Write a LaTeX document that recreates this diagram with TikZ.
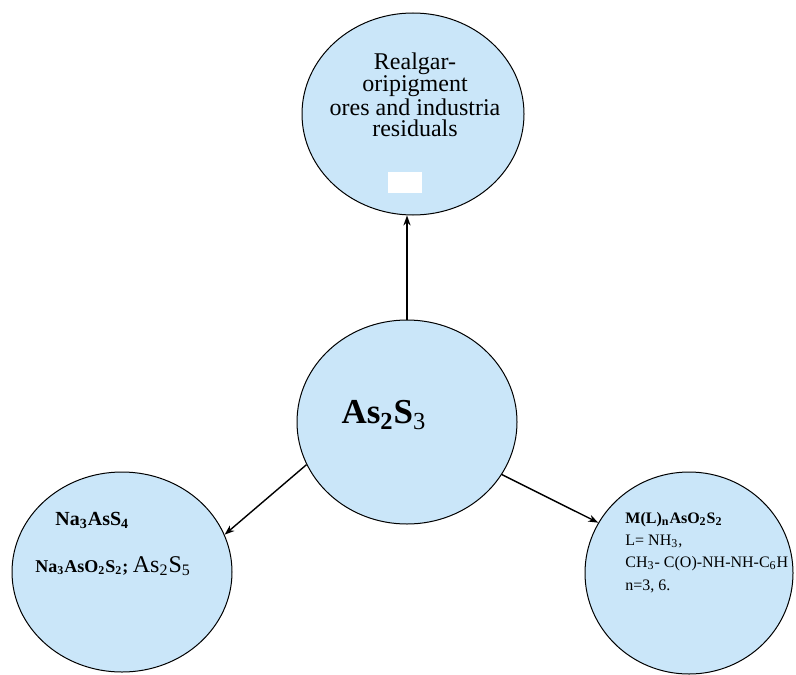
\documentclass[tikz,border=0pt]{standalone}
\usepackage{fontspec}
\setmainfont{Liberation Serif}
\usetikzlibrary{shapes.geometric,arrows.meta}
\definecolor{bubble}{RGB}{202,230,249}
\begin{document}
\begin{tikzpicture}[x=0.5pt,y=-0.5pt,
  blob/.style={ellipse,draw=black,line width=0.5pt,fill=bubble,inner sep=0pt},
  link/.style={line width=0.7pt,-{Stealth[length=5pt,width=3.6pt]}}]
\useasboundingbox (0,0) rectangle (796,674);

\node [blob,minimum width=111pt,minimum height=101pt] at (413,114) (ore) {};
\node [blob,minimum width=110pt,minimum height=102pt] at (407,422) (src) {};
\node [blob,minimum width=110pt,minimum height=100pt] at (122,572) (na) {};
\node [blob,minimum width=104pt,minimum height=101pt] at (689,573) (cx) {};

\node [align=center,font=\fontsize{12}{10.8}\selectfont] at (415,95) (oretext)
  {Realgar-\\oripigment\\ores and industria\\residuals};
\node [fill=white,minimum width=17pt,minimum height=10.5pt,inner sep=0pt] at (405,182) (blank) {};

\node [font=\fontsize{17.5}{20}\selectfont] at (384,415) (srctext)
  {\textbf{As\textsubscript{2}S}\textsubscript{3}};

\node [anchor=base west,inner sep=0pt,font=\fontsize{10}{12}\selectfont] at (55,525) (na1)
  {\textbf{Na\textsubscript{3}AsS\textsubscript{4}}};
\node [anchor=base west,inner sep=0pt,font=\fontsize{9}{12}\selectfont] at (35,572) (na2)
  {\textbf{Na\textsubscript{3}AsO\textsubscript{2}S\textsubscript{2};} {\fontsize{12}{12}\selectfont As\textsubscript{2}S\textsubscript{5}}};

\node [anchor=base west,inner sep=0pt,font=\fontsize{8}{9}\selectfont] at (625,523) (cx1)
  {\textbf{M(L)\textsubscript{n}AsO\textsubscript{2}S\textsubscript{2}}};
\node [anchor=base west,inner sep=0pt,font=\fontsize{8}{9}\selectfont] at (625,545) (cx2)
  {L= NH\textsubscript{3},};
\node [anchor=base west,inner sep=0pt,font=\fontsize{8}{9}\selectfont] at (625,567) (cx3)
  {CH\textsubscript{3}- C(O)-NH-NH-C\textsubscript{6}H};
\node [anchor=base west,inner sep=0pt,font=\fontsize{8}{9}\selectfont] at (625,590) (cx4)
  {n=3, 6.};

\draw [link] (src.north) -- (src.north |- ore.south);
\draw [link] (src.203) -- (na.20);
\draw [link] (src.331) -- (cx.151);
\end{tikzpicture}
\end{document}
